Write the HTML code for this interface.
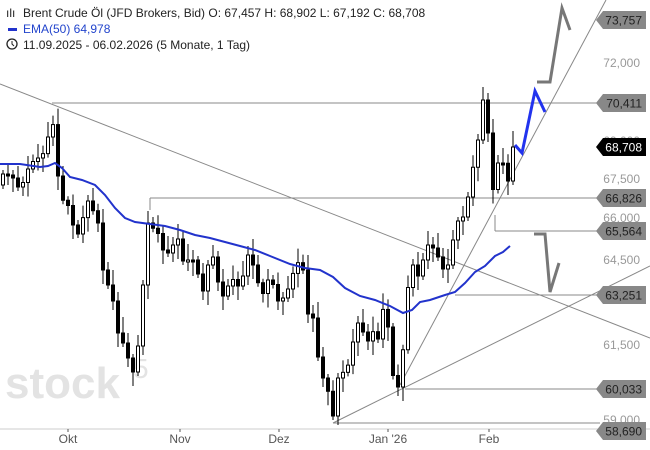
<!DOCTYPE html><html><head><style>body{margin:0;background:#fff}svg{display:block;font-family:"Liberation Sans",sans-serif}</style></head><body>
<svg id="s" width="650" height="450" xmlns="http://www.w3.org/2000/svg">
<rect width="650" height="450" fill="#fff"/>
<text x="5" y="398" font-size="44" fill="#e3e3e3" font-weight="bold">stock</text><text x="133" y="378" font-size="28" fill="#e3e3e3">5</text>
<g stroke="#888" stroke-width="1" fill="none">
<line x1="0" y1="84" x2="650" y2="338"/>
<line x1="400" y1="385" x2="606" y2="0"/>
<line x1="333" y1="423" x2="650" y2="266"/>
<line x1="52" y1="103" x2="600" y2="103"/>
<line x1="150" y1="198" x2="600" y2="198"/>
<line x1="495" y1="231" x2="600" y2="231"/>
<polyline points="495,215 495,231"/>
<line x1="455" y1="295" x2="600" y2="295"/>
<line x1="405" y1="389" x2="600" y2="389"/>
<line x1="333" y1="423" x2="600" y2="423"/>
<line x1="150" y1="198" x2="150" y2="210"/>
<line x1="0" y1="429" x2="650" y2="429" stroke="#ccc"/>
</g>
<g id="c"></g>
<polyline fill="none" stroke="#2233cc" stroke-width="2" points="0,164 20,164 40,167 48,166 55,163 62,168 70,177 82,180 95,185 105,195 115,208 125,218 135,222 150,224 165,226 180,230 195,235 210,238 225,242 240,246 255,250 270,256 290,264 305,268 320,270 333,277 345,288 360,296 375,300 390,306 403,313 412,310 420,302 430,300 445,295 455,292 465,283 475,272 485,266 495,256 503,252 510,246"/>
<polyline fill="none" stroke="#2233ee" stroke-width="3" points="515,145 522,153 535,91 545,112"/>
<polyline fill="none" stroke="#777" stroke-width="3" points="537,82 550,82 562,8 570,30"/>
<polyline fill="none" stroke="#777" stroke-width="3" points="534,234 545,234 550,292 559,263"/>
<g font-size="12" fill="#999" text-anchor="end">
<text x="640" y="67">72,000</text><text x="640" y="145">69,000</text><text x="640" y="183">67,500</text><text x="640" y="222">66,000</text><text x="640" y="264">64,500</text><text x="640" y="349">61,500</text><text x="640" y="424">59,000</text>
</g>
<g id="lb" font-size="12"></g>
<g font-size="12" fill="#555" text-anchor="middle"><text x="68" y="443">Okt</text><text x="180" y="443">Nov</text><text x="279" y="443">Dez</text><text x="388" y="443">Jan '26</text><text x="489" y="443">Feb</text></g>
<g stroke="#555"><line x1="68" y1="429" x2="68" y2="432"/><line x1="180" y1="429" x2="180" y2="432"/><line x1="279" y1="429" x2="279" y2="432"/><line x1="388" y1="429" x2="388" y2="432"/><line x1="489" y1="429" x2="489" y2="432"/></g>
<rect x="0" y="0" width="300" height="52" fill="#fff" opacity="0.85"/>
<g font-size="12" fill="#222">
<text x="6" y="17">ılı</text><text x="23" y="17">Brent Crude Öl (JFD Brokers, Bid)  O: 67,457  H: 68,902  L: 67,192  C: 68,708</text>
<rect x="8" y="28" width="9" height="3" fill="#2233cc"/><text x="23" y="33" fill="#2244cc">EMA(50)  64,978</text>
<circle cx="12" cy="44" r="5" fill="none" stroke="#222" stroke-width="1.3"/><polyline points="12,41 12,44 14,46" fill="none" stroke="#222"/>
<text x="23" y="49">11.09.2025 - 06.02.2026  (5 Monate, 1 Tag)</text>
</g>
</svg>
<script>
var K=[[0,180],[10,170],[20,190],[30,165],[40,160],[48,135],[52,112],[57,170],[62,200],[70,210],[75,240],[80,225],[88,200],[95,215],[100,230],[105,300],[110,280],[115,310],[120,345],[125,340],[130,370],[135,375],[140,330],[145,260],[148,220],[152,225],[160,235],[165,260],[170,250],[180,240],[185,270],[190,250],[200,280],[205,300],[210,245],[215,270],[225,300],[230,275],[240,290],[250,250],[255,270],[262,295],[270,275],[280,310],[290,280],[297,260],[303,270],[308,315],[313,320],[318,360],[323,375],[330,395],[333,415],[337,380],[342,370],[345,380],[352,350],[358,320],[362,325],[366,345],[372,330],[378,340],[385,300],[390,350],[394,380],[398,385],[402,365],[406,300],[410,275],[415,260],[420,290],[425,245],[430,240],[435,250],[440,260],[445,275],[450,260],[455,230],[460,220],[465,210],[470,185],[474,160],[478,140],[481,92],[485,110],[488,135],[492,200],[496,170],[500,150],[504,165],[508,180],[512,147]];
function f(x){for(var i=1;i<K.length;i++)if(x<=K[i][0]){var a=K[i-1],b=K[i];return a[1]+(b[1]-a[1])*(x-a[0])/(b[0]-a[0]);}return 147;}
var g="",p=f(0)+5;
for(var i=0;i<=102;i++){var x=3+i*5,o=p,c=f(x)+((i*13)%7-3),t=Math.min(o,c),b=Math.max(o,c);if(b-t<2)b=t+2;
var h=t-4-((i*7)%13),l=b+4+((i*5)%15);
g+='<line x1="'+x+'" y1="'+h+'" x2="'+x+'" y2="'+l+'" stroke="#000"/>';
g+='<rect x="'+(x-1.5)+'" y="'+t+'" width="3" height="'+(b-t)+'" fill="'+(c<o?"#fff":"#000")+'" stroke="#000" stroke-width="1"/>';p=c;}
document.getElementById("c").innerHTML=g;
var L=[[20,"73,757","#888","#222"],[103,"70,411","#888","#222"],[147,"68,708","#000","#fff"],[198,"66,826","#888","#222"],[231,"65,564","#888","#222"],[295,"63,251","#888","#222"],[389,"60,033","#888","#222"],[431,"58,690","#888","#222"]],s="";
L.forEach(function(a){var y=a[0];s+='<polygon points="596,'+y+' 603,'+(y-9)+' 646,'+(y-9)+' 646,'+(y+9)+' 603,'+(y+9)+'" fill="'+a[2]+'"/><text x="642" y="'+(y+4.5)+'" text-anchor="end" fill="'+a[3]+'">'+a[1]+'</text>';});
document.getElementById("lb").innerHTML=s;
</script>
</body></html>
